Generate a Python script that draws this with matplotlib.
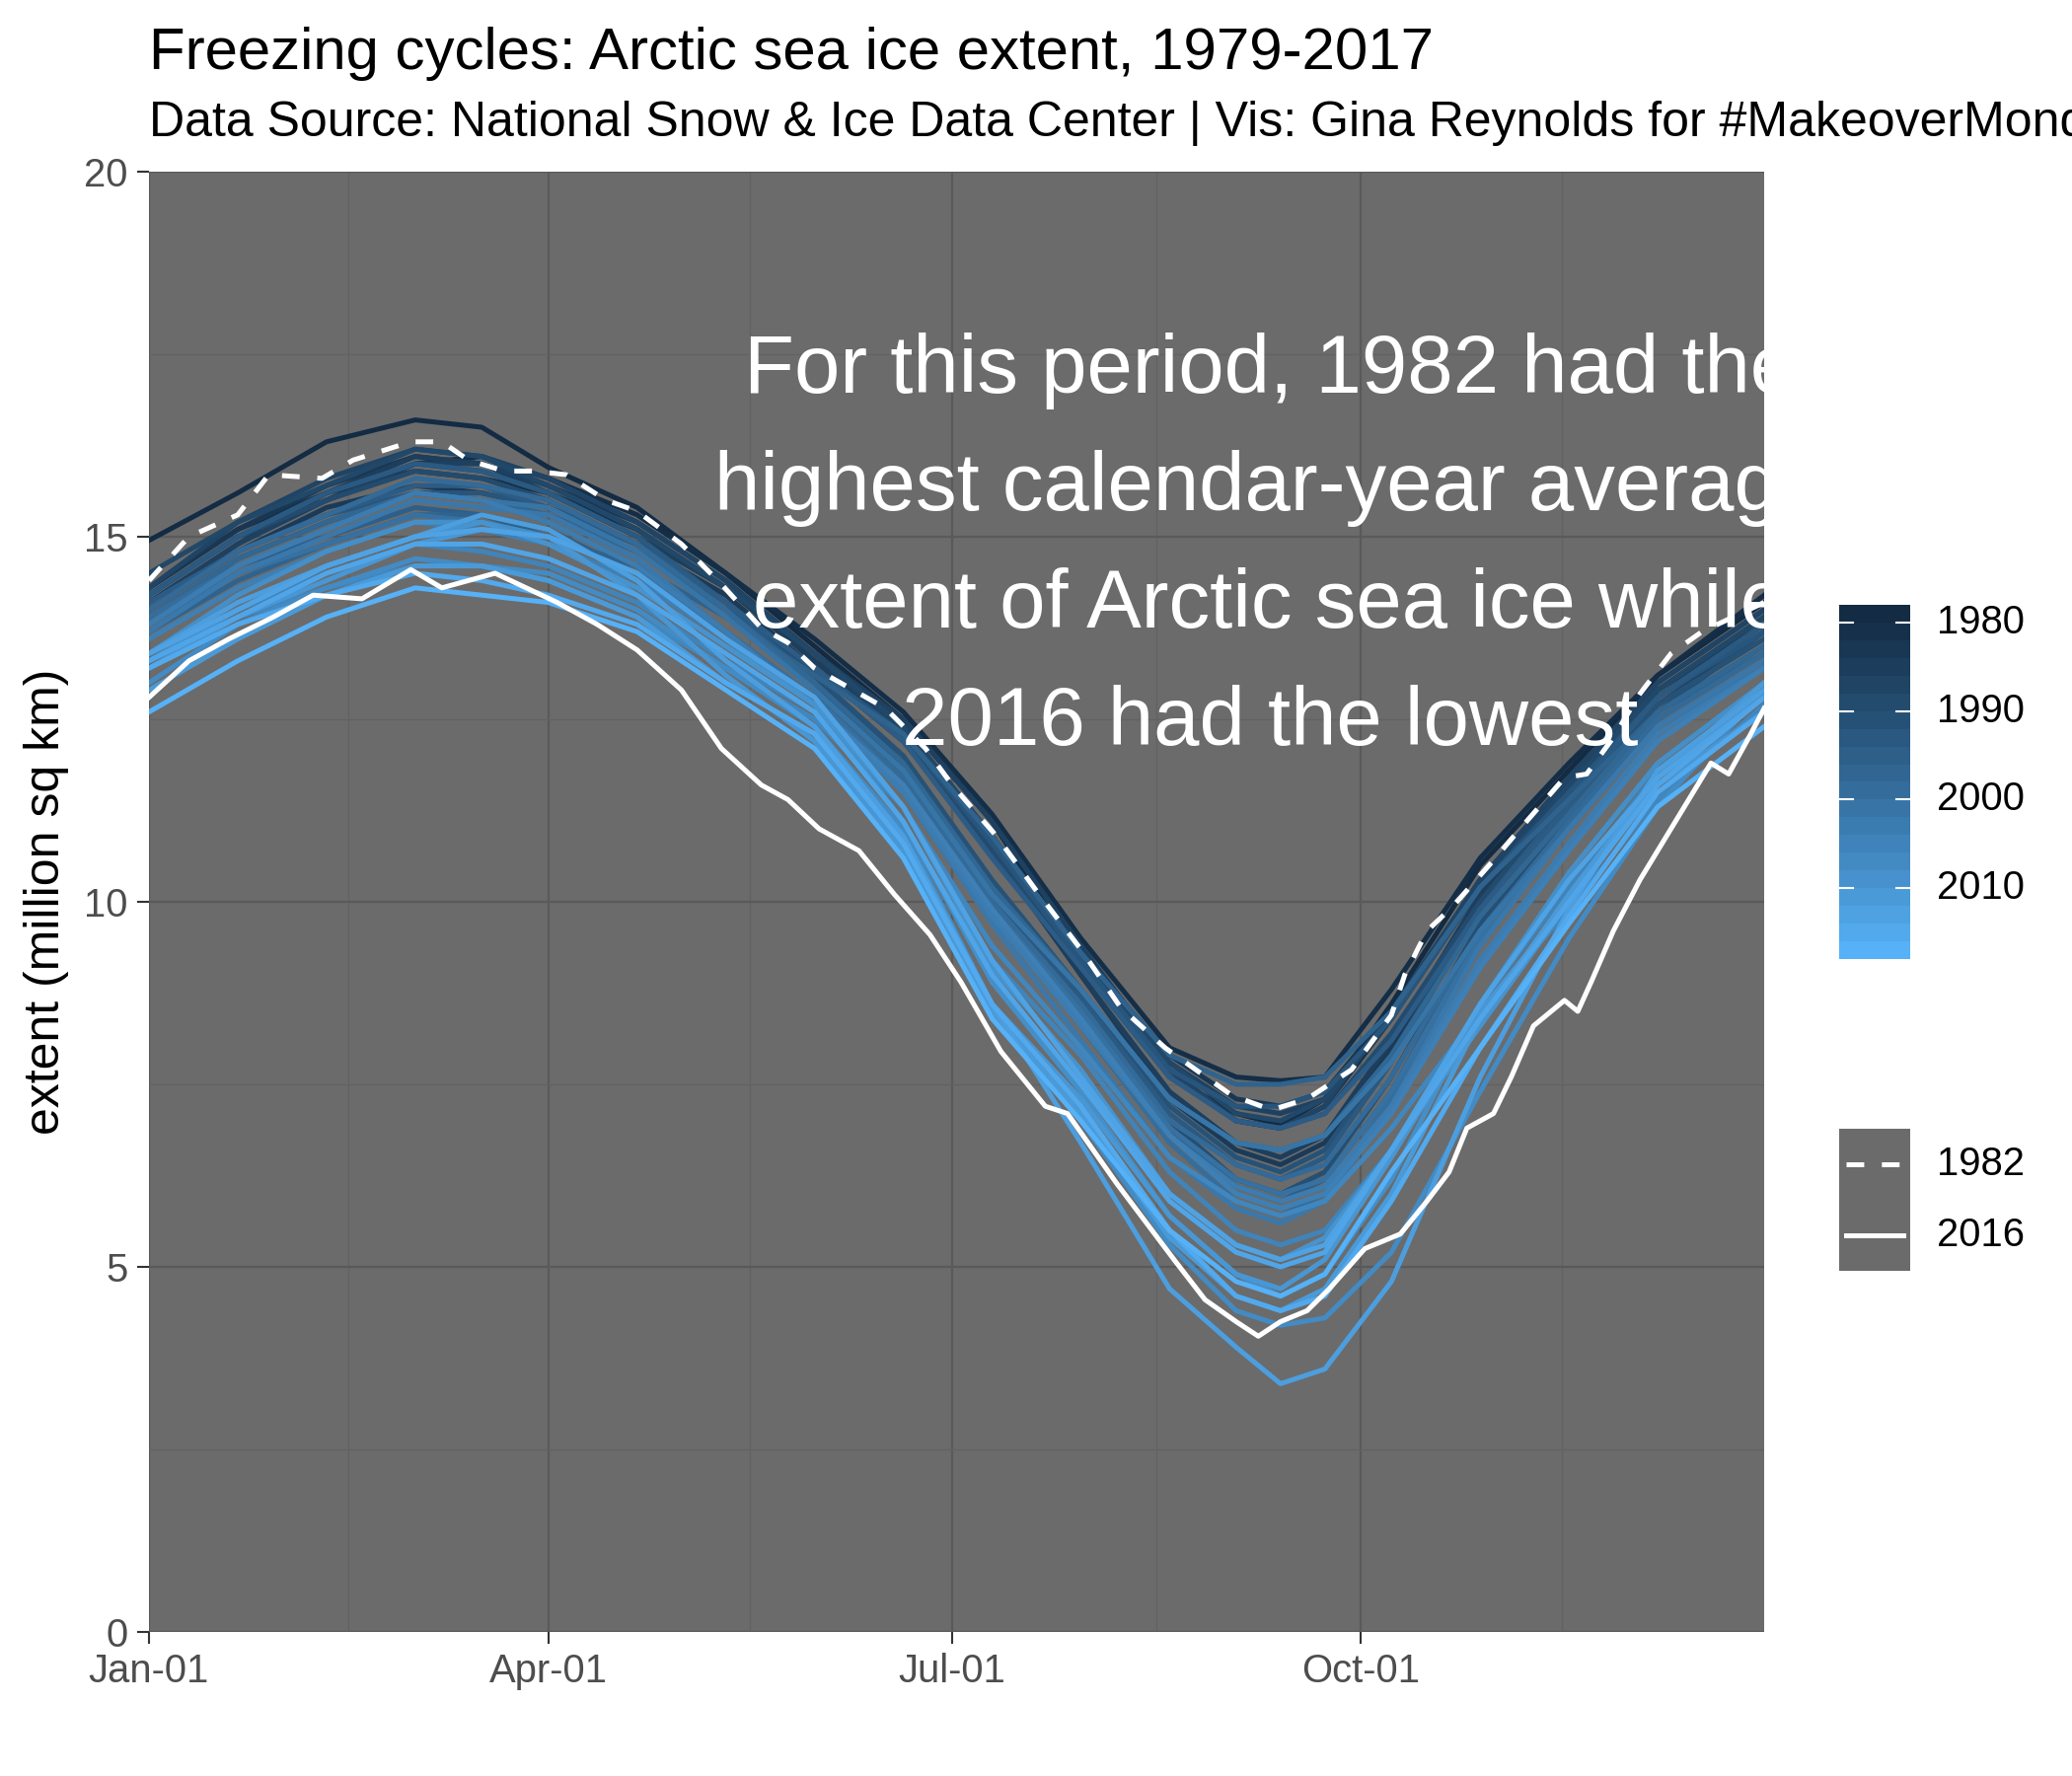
import numpy as np
import matplotlib.pyplot as plt
from matplotlib.colors import ListedColormap, Normalize

plt.rcParams['font.family'] = ['Liberation Sans', 'DejaVu Sans']
plt.rcParams['lines.scale_dashes'] = False

day_pts = [0, 20, 40, 60, 75, 90, 110, 130, 150, 170, 190, 210, 230, 245, 255, 265, 280, 300, 320, 340, 364]

# extent, million sq km
y1979 = [14.95, 15.6, 16.3, 16.6, 16.5, 15.95, 15.4, 14.5, 13.5, 12.5, 11.1, 9.2, 7.6, 7.1, 6.95, 7.3, 8.6, 10.5, 11.8, 13.1, 14.1]
y1980 = [14.2, 15.0, 15.5, 16.0, 16.1, 15.8, 15.3, 14.5, 13.6, 12.6, 11.2, 9.5, 8.0, 7.6, 7.55, 7.6, 8.8, 10.6, 11.9, 13.1, 14.2]
y1981 = [14.3, 15.1, 15.6, 15.9, 15.8, 15.6, 15.1, 14.3, 13.3, 12.4, 10.9, 9.2, 7.7, 7.0, 6.9, 7.2, 8.4, 10.3, 11.6, 12.9, 13.9]
y1983 = [14.3, 15.1, 15.7, 16.1, 16.0, 15.7, 15.2, 14.4, 13.4, 12.4, 10.9, 9.3, 7.9, 7.3, 7.2, 7.4, 8.5, 10.3, 11.7, 13.0, 14.0]
y1984 = [14.0, 14.8, 15.4, 15.7, 15.6, 15.4, 14.9, 14.2, 13.2, 12.2, 10.7, 9.0, 7.3, 6.6, 6.4, 6.7, 8.0, 10.0, 11.5, 12.8, 13.8]
y1985 = [14.1, 14.9, 15.6, 16.1, 16.0, 15.6, 15.0, 14.3, 13.3, 12.3, 10.8, 9.0, 7.4, 6.7, 6.5, 6.8, 8.1, 10.1, 11.5, 12.9, 13.8]
y1986 = [14.1, 14.9, 15.5, 16.0, 16.0, 15.7, 15.1, 14.3, 13.4, 12.5, 11.1, 9.4, 7.8, 7.2, 7.1, 7.3, 8.4, 10.2, 11.4, 12.7, 13.7]
y1987 = [14.3, 15.2, 15.8, 16.2, 16.1, 15.8, 15.2, 14.4, 13.4, 12.3, 10.9, 9.2, 7.7, 7.0, 6.9, 7.2, 8.5, 10.3, 11.7, 13.0, 14.0]
y1988 = [14.5, 15.2, 15.7, 16.2, 16.1, 15.7, 15.1, 14.3, 13.4, 12.4, 10.9, 9.3, 7.8, 7.1, 7.0, 7.3, 8.4, 10.2, 11.6, 12.9, 13.9]
y1989 = [14.2, 15.0, 15.5, 15.9, 15.8, 15.5, 14.9, 14.1, 13.2, 12.2, 10.7, 9.1, 7.6, 7.0, 6.9, 7.1, 8.2, 10.0, 11.5, 12.8, 13.8]
y1990 = [14.2, 15.0, 15.6, 16.0, 15.9, 15.6, 15.0, 14.1, 13.1, 11.9, 10.1, 8.6, 7.0, 6.2, 6.0, 6.3, 7.6, 9.7, 11.2, 12.6, 13.7]
y1991 = [13.9, 14.7, 15.2, 15.6, 15.5, 15.3, 14.8, 14.0, 13.1, 12.0, 10.3, 8.8, 7.2, 6.5, 6.3, 6.6, 7.9, 9.9, 11.4, 12.7, 13.6]
y1992 = [14.0, 14.8, 15.3, 15.6, 15.6, 15.4, 14.9, 14.1, 13.2, 12.3, 10.8, 9.2, 7.7, 7.2, 7.2, 7.4, 8.4, 10.2, 11.5, 12.8, 13.7]
y1993 = [14.2, 15.0, 15.6, 16.0, 15.9, 15.6, 15.0, 14.1, 13.0, 11.8, 10.1, 8.7, 7.1, 6.4, 6.2, 6.5, 7.8, 9.9, 11.4, 12.8, 13.8]
y1994 = [14.1, 14.8, 15.3, 15.7, 15.7, 15.4, 14.9, 14.1, 13.2, 12.2, 10.6, 9.1, 7.6, 7.0, 6.9, 7.1, 8.1, 9.9, 11.3, 12.6, 13.5]
y1995 = [13.9, 14.6, 15.0, 15.4, 15.3, 15.1, 14.5, 13.7, 12.8, 11.6, 9.9, 8.4, 6.9, 6.1, 5.9, 6.2, 7.4, 9.6, 11.1, 12.5, 13.4]
y1996 = [13.7, 14.4, 14.9, 15.3, 15.3, 15.0, 14.6, 13.9, 13.1, 12.3, 10.9, 9.3, 7.9, 7.5, 7.5, 7.6, 8.5, 10.2, 11.4, 12.6, 13.4]
y1997 = [13.9, 14.7, 15.2, 15.6, 15.5, 15.3, 14.8, 14.0, 13.0, 11.9, 10.2, 8.8, 7.3, 6.7, 6.6, 6.8, 7.9, 9.8, 11.2, 12.6, 13.5]
y1998 = [14.0, 14.8, 15.3, 15.8, 15.7, 15.5, 14.9, 14.0, 12.9, 11.7, 10.0, 8.6, 7.0, 6.4, 6.2, 6.4, 7.6, 9.6, 11.1, 12.5, 13.4]
y1999 = [13.9, 14.6, 15.1, 15.6, 15.5, 15.2, 14.6, 13.7, 12.8, 11.6, 9.8, 8.3, 6.7, 5.9, 5.7, 6.0, 7.3, 9.5, 11.0, 12.4, 13.3]
y2000 = [13.8, 14.5, 14.9, 15.3, 15.2, 15.0, 14.5, 13.7, 12.8, 11.6, 9.9, 8.5, 6.9, 6.2, 6.0, 6.2, 7.4, 9.5, 11.0, 12.4, 13.3]
y2001 = [13.8, 14.6, 15.1, 15.6, 15.5, 15.4, 14.8, 13.9, 12.9, 11.8, 10.1, 8.8, 7.3, 6.7, 6.6, 6.8, 7.8, 9.6, 11.0, 12.4, 13.2]
y2002 = [13.7, 14.5, 15.0, 15.5, 15.4, 15.3, 14.7, 13.7, 12.7, 11.5, 9.7, 8.1, 6.5, 5.8, 5.6, 5.9, 7.2, 9.4, 11.0, 12.4, 13.3]
y2003 = [13.8, 14.6, 15.1, 15.6, 15.5, 15.2, 14.6, 13.7, 12.7, 11.5, 9.8, 8.3, 6.8, 6.1, 5.9, 6.1, 7.2, 9.2, 10.8, 12.3, 13.2]
y2004 = [13.6, 14.3, 14.8, 15.2, 15.1, 14.9, 14.4, 13.6, 12.7, 11.6, 9.9, 8.4, 6.8, 6.0, 5.8, 6.0, 7.1, 9.1, 10.7, 12.2, 13.2]
y2005 = [13.3, 14.0, 14.5, 14.9, 14.8, 14.6, 14.1, 13.3, 12.6, 11.3, 9.2, 7.9, 6.3, 5.5, 5.3, 5.5, 6.6, 8.6, 10.2, 11.8, 12.9]
y2006 = [13.3, 13.9, 14.3, 14.6, 14.6, 14.4, 13.9, 13.2, 12.5, 11.3, 9.4, 8.0, 6.5, 5.9, 5.7, 5.9, 6.9, 8.5, 9.9, 11.4, 12.7]
y2007 = [13.0, 13.8, 14.3, 14.7, 14.6, 14.5, 14.0, 13.2, 12.4, 11.0, 8.6, 7.0, 5.3, 4.4, 4.2, 4.3, 5.2, 7.4, 9.5, 11.3, 12.9]
y2008 = [13.4, 14.2, 14.8, 15.2, 15.2, 15.0, 14.5, 13.6, 12.7, 11.1, 8.9, 7.4, 5.7, 4.9, 4.6, 4.9, 6.2, 8.6, 10.4, 11.9, 13.0]
y2009 = [13.3, 14.0, 14.6, 15.0, 15.2, 14.9, 14.3, 13.5, 12.7, 11.3, 9.1, 7.7, 6.0, 5.3, 5.1, 5.4, 6.6, 8.3, 10.0, 11.7, 12.9]
y2010 = [13.2, 13.9, 14.4, 14.9, 15.1, 15.0, 14.2, 13.1, 12.2, 10.7, 8.6, 7.3, 5.7, 4.9, 4.7, 5.1, 6.5, 8.5, 10.0, 11.6, 12.6]
y2011 = [12.9, 13.6, 14.2, 14.6, 14.6, 14.4, 13.9, 13.0, 12.3, 10.8, 8.5, 7.1, 5.4, 4.6, 4.4, 4.7, 6.0, 8.4, 10.1, 11.7, 13.0]
y2012 = [13.4, 14.1, 14.6, 15.0, 15.3, 15.1, 14.4, 13.3, 12.4, 10.9, 8.6, 6.7, 4.7, 3.9, 3.4, 3.6, 4.8, 7.6, 9.9, 11.8, 12.9]
y2013 = [13.4, 14.0, 14.6, 15.0, 15.1, 15.0, 14.5, 13.6, 12.8, 11.3, 9.2, 7.6, 6.0, 5.3, 5.1, 5.3, 6.6, 8.6, 10.3, 11.7, 12.8]
y2014 = [13.3, 13.9, 14.5, 14.9, 14.9, 14.7, 14.2, 13.4, 12.6, 11.1, 9.0, 7.5, 5.9, 5.2, 5.0, 5.2, 6.6, 8.4, 10.0, 11.6, 12.8]
y2015 = [13.2, 13.8, 14.2, 14.5, 14.4, 14.2, 13.8, 13.0, 12.3, 10.8, 8.6, 7.2, 5.5, 4.6, 4.4, 4.6, 5.9, 8.0, 9.8, 11.5, 12.6]
y2017 = [12.6, 13.3, 13.9, 14.3, 14.2, 14.1, 13.7, 12.9, 12.1, 10.6, 8.4, 7.0, 5.5, 4.8, 4.6, 4.9, 6.3, 8.0, 9.7, 11.3, 12.4]

years = [1979, 1980, 1981, 1983, 1984, 1985, 1986, 1987, 1988, 1989,
         1990, 1991, 1992, 1993, 1994, 1995, 1996, 1997, 1998, 1999,
         2000, 2001, 2002, 2003, 2004, 2005, 2006, 2007, 2008, 2009,
         2010, 2011, 2012, 2013, 2014, 2015, 2017]
extents = [y1979, y1980, y1981, y1983, y1984, y1985, y1986, y1987, y1988, y1989,
           y1990, y1991, y1992, y1993, y1994, y1995, y1996, y1997, y1998, y1999,
           y2000, y2001, y2002, y2003, y2004, y2005, y2006, y2007, y2008, y2009,
           y2010, y2011, y2012, y2013, y2014, y2015, y2017]

# the two highlighted years, read more finely
day_1982 = [0, 9, 20, 27, 39, 46, 59, 66, 72, 80, 87, 94, 103, 110, 120, 129, 138, 144, 150,
            166, 175, 181, 191, 200, 210, 219, 229, 244, 253, 261, 271, 280, 283, 288, 294,
            302, 309, 319, 324, 330, 336, 343, 350, 364]
ext_1982 = [14.4, 15.0, 15.3, 15.85, 15.8, 16.05, 16.3, 16.3, 16.05, 15.9, 15.9, 15.85, 15.5,
            15.35, 14.9, 14.35, 13.75, 13.55, 13.2, 12.65, 12.1, 11.6, 10.9, 10.15, 9.35, 8.55,
            8.0, 7.35, 7.15, 7.3, 7.7, 8.45, 9.0, 9.6, 9.95, 10.5, 11.0, 11.7, 11.75, 12.25,
            12.85, 13.4, 13.7, 14.1]
day_2016 = [0, 9, 18, 28, 37, 48, 59, 66, 78, 85, 92, 101, 110, 120, 129, 138, 144, 151, 160,
            168, 176, 183, 192, 202, 207, 218, 231, 238, 245, 250, 255, 261, 266, 274, 282, 288,
            293, 297, 303, 307, 312, 319, 322, 325, 330, 336, 341, 347, 352, 356, 361, 364]
ext_2016 = [12.8, 13.3, 13.6, 13.9, 14.2, 14.15, 14.55, 14.3, 14.5, 14.3, 14.1, 13.8, 13.45,
            12.9, 12.1, 11.6, 11.4, 11.0, 10.7, 10.1, 9.55, 8.9, 7.95, 7.2, 7.1, 6.15, 5.1, 4.55,
            4.25, 4.05, 4.25, 4.4, 4.7, 5.25, 5.45, 5.9, 6.3, 6.9, 7.1, 7.6, 8.3, 8.65, 8.5, 8.9,
            9.6, 10.3, 10.8, 11.4, 11.9, 11.75, 12.3, 12.65]

x_breaks = [0, 90, 181, 273]
x_labels = ['Jan-01', 'Apr-01', 'Jul-01', 'Oct-01']
cbar_breaks = [1980, 1990, 2000, 2010]

note = ['For this period, 1982 had the',
        'highest calendar-year average',
        'extent of Arctic sea ice while',
        '2016 had the lowest']


# ggplot's gradient is interpolated in Lab space
def hex_to_lab(h):
    rgb = np.array([int(h[i:i + 2], 16) for i in (1, 3, 5)]) / 255.0
    lin = np.where(rgb <= 0.04045, rgb / 12.92, ((rgb + 0.055) / 1.055) ** 2.4)
    m = np.array([[0.4124, 0.3576, 0.1805], [0.2126, 0.7152, 0.0722], [0.0193, 0.1192, 0.9505]])
    xyz = m @ lin / np.array([0.95047, 1.0, 1.08883])
    f = np.where(xyz > 0.008856, np.cbrt(xyz), 7.787 * xyz + 16 / 116)
    return np.array([116 * f[1] - 16, 500 * (f[0] - f[1]), 200 * (f[1] - f[2])])


def lab_to_rgb(lab):
    fy = (lab[0] + 16) / 116
    f = np.array([fy + lab[1] / 500, fy, fy - lab[2] / 200])
    xyz = np.where(f ** 3 > 0.008856, f ** 3, (f - 16 / 116) / 7.787) * np.array([0.95047, 1.0, 1.08883])
    m = np.array([[3.2406, -1.5372, -0.4986], [-0.9689, 1.8758, 0.0415], [0.0557, -0.2040, 1.0570]])
    lin = np.clip(m @ xyz, 0, 1)
    return np.where(lin <= 0.0031308, 12.92 * lin, 1.055 * lin ** (1 / 2.4) - 0.055)


lab_lo, lab_hi = hex_to_lab('#132B43'), hex_to_lab('#56B1F7')
cmap = ListedColormap([lab_to_rgb(lab_lo + t * (lab_hi - lab_lo)) for t in np.linspace(0, 1, 256)])
norm = Normalize(1979, 2017)

W, H = 2100, 1800
panel = '#6B6B6B'
fig = plt.figure(figsize=(7, 6), dpi=300)
ax = fig.add_axes([151 / W, 1 - 1654 / H, (1788 - 151) / W, (1654 - 174) / H])
ax.set_facecolor(panel)
for s in ax.spines.values():
    s.set_visible(False)

for yr, ext in zip(years, extents):
    ax.plot(day_pts, ext, color=cmap(norm(yr)), lw=1.2, zorder=2, solid_joinstyle='round')
ax.plot(day_1982, ext_1982, color='white', lw=1.2, dashes=(4.3, 4.3), zorder=3)
ax.plot(day_2016, ext_2016, color='white', lw=1.2, zorder=3)

ax.set_xlim(0, 364)
ax.set_ylim(0, 20)
ax.set_xticks(x_breaks)
ax.set_xticklabels(x_labels)
ax.set_xticks([45, 135.5, 227, 318.5], minor=True)
ax.set_yticks([0, 5, 10, 15, 20])
ax.set_yticks([2.5, 7.5, 12.5, 17.5], minor=True)
ax.grid(which='major', color='#5A5A5A', lw=0.55, zorder=0)
ax.grid(which='minor', color='#626262', lw=0.3, zorder=0)
ax.set_axisbelow(True)
ax.tick_params(which='major', length=2.9, width=0.5, color='#333333',
               labelcolor='#4D4D4D', labelsize=9.6, pad=2.2)
ax.tick_params(which='minor', length=0)

# annotation, clipped by the panel like the original
ann_y = [16.97, 15.36, 13.76, 12.15]
for line, yy in zip(note, ann_y):
    ax.text(252.6, yy, line, color='white', fontsize=20, ha='center', va='baseline',
            clip_on=True, zorder=4)

fig.text(151 / W, 1 - 70 / H, 'Freezing cycles: Arctic sea ice extent, 1979-2017',
         fontsize=14.4, va='baseline')
fig.text(151 / W, 1 - 138 / H,
         'Data Source: National Snow & Ice Data Center | Vis: Gina Reynolds for #MakeoverMonday',
         fontsize=12, va='baseline')
fig.text(47 / W, 1 - (174 + 1654) / 2 / H, 'extent (million sq km)', rotation=90,
         fontsize=12, ha='center', va='center')

# colour bar legend (20 steps, early years on top)
cax = fig.add_axes([1864 / W, 1 - 972 / H, 72 / W, 359 / H])
steps = np.linspace(1979, 2017, 20).reshape(-1, 1)
cax.imshow(steps, cmap=cmap, norm=norm, aspect='auto', extent=(0, 1, 2018, 1978),
           origin='upper', interpolation='nearest')
cax.set_xlim(0, 1)
cax.set_ylim(2018, 1978)
cax.set_axis_off()
for b in cbar_breaks:
    cax.plot([0, 0.2], [b, b], color='white', lw=0.5)
    cax.plot([0.8, 1], [b, b], color='white', lw=0.5)
    cax.text(1.375, b, str(b), fontsize=9.6, va='center', ha='left',
             transform=cax.get_yaxis_transform())

# linetype legend
lax = fig.add_axes([1864 / W, 1 - 1288 / H, 72 / W, 144 / H])
lax.set_facecolor(panel)
lax.set_xlim(0, 1)
lax.set_ylim(0, 2)
lax.set_xticks([])
lax.set_yticks([])
for s in lax.spines.values():
    s.set_visible(False)
lax.plot([0.1, 0.9], [1.5, 1.5], color='white', lw=1.2, dashes=(4.3, 4.3))
lax.plot([0.1, 0.9], [0.5, 0.5], color='white', lw=1.2)
lax.text(1.375, 1.5, '1982', fontsize=9.6, va='center')
lax.text(1.375, 0.5, '2016', fontsize=9.6, va='center')

fig.savefig('out.png', dpi=300)
